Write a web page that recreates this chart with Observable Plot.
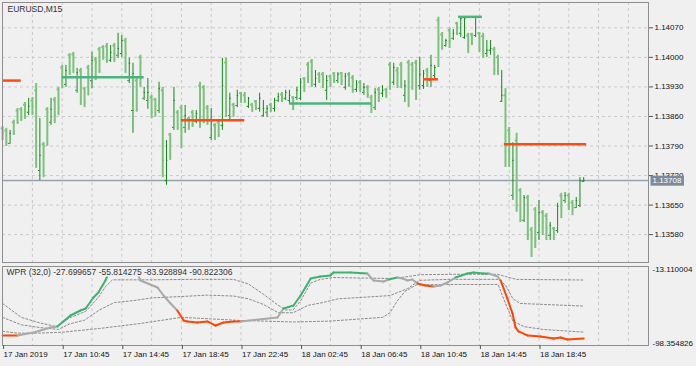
<!DOCTYPE html>
<html><head><meta charset="utf-8">
<script src="https://cdn.jsdelivr.net/npm/d3@7"></script>
<script src="https://cdn.jsdelivr.net/npm/@observablehq/plot@0.6"></script>
<style>
html,body{margin:0;padding:0;background:#f0f0f0;}
body{width:696px;height:366px;overflow:hidden;position:relative;font-family:"Liberation Sans",Arial,sans-serif;}
#main{position:absolute;left:0;top:0;}
#ind{position:absolute;left:0;top:264px;}
svg{display:block;}
</style></head><body>
<div id="main"></div><div id="ind"></div>
<script>
// ---------- DATA ----------
const symbol = "EURUSD,M15";
const barHigh = [1.13836,1.13832,1.13827,1.13851,1.13879,1.13881,1.13893,1.13903,1.13905,1.13938,
1.13855,1.13798,1.13881,1.13903,1.13905,1.13929,1.13981,1.13981,1.14009,1.14012,
1.13974,1.13974,1.13929,1.13981,1.14012,1.14000,1.14024,1.14028,1.14033,1.14028,
1.14033,1.14057,1.14052,1.14045,1.13998,1.13986,1.13952,1.14005,1.13929,1.13950,
1.13910,1.13903,1.13941,1.13929,1.13803,1.13820,1.13929,1.13874,1.13886,1.13886,
1.13858,1.13874,1.13874,1.13941,1.13933,1.13886,1.13879,1.13843,1.13851,1.13998,
1.13998,1.13915,1.13891,1.13922,1.13917,1.13917,1.13905,1.13891,1.13898,1.13915,
1.13898,1.13886,1.13891,1.13903,1.13915,1.13917,1.13922,1.13922,1.13907,1.13929,
1.13950,1.13952,1.13988,1.13995,1.13969,1.13964,1.13964,1.13957,1.13957,1.13964,
1.13964,1.13964,1.13962,1.13964,1.13957,1.13945,1.13945,1.13938,1.13933,1.13910,
1.13926,1.13929,1.13933,1.13926,1.13988,1.13986,1.13976,1.13988,1.13945,1.13993,
1.13988,1.13993,1.14000,1.13969,1.13974,1.14005,1.13981,1.14095,1.14059,1.14043,
1.14069,1.14066,1.14083,1.14095,1.14095,1.14057,1.14057,1.14097,1.14059,1.14057,
1.14040,1.14040,1.14024,1.14005,1.13969,1.13926,1.13834,1.13798,1.13820,1.13689,
1.13673,1.13673,1.13597,1.13644,1.13661,1.13637,1.13630,1.13609,1.13597,1.13654,
1.13678,1.13680,1.13678,1.13661,1.13668,1.13715,1.13715];
const barLow = [1.13803,1.13789,1.13794,1.13815,1.13841,1.13848,1.13853,1.13862,1.13862,1.13737,
1.13708,1.13715,1.13789,1.13839,1.13843,1.13862,1.13926,1.13929,1.13957,1.13962,
1.13915,1.13886,1.13881,1.13910,1.13926,1.13945,1.13962,1.13993,1.13986,1.13988,
1.13988,1.13998,1.14000,1.13962,1.13938,1.13820,1.13870,1.13929,1.13898,1.13877,
1.13855,1.13858,1.13867,1.13715,1.13697,1.13756,1.13827,1.13827,1.13784,1.13820,
1.13827,1.13834,1.13843,1.13832,1.13843,1.13839,1.13803,1.13803,1.13810,1.13827,
1.13858,1.13851,1.13858,1.13881,1.13891,1.13891,1.13879,1.13870,1.13874,1.13870,
1.13858,1.13858,1.13870,1.13870,1.13893,1.13893,1.13898,1.13891,1.13874,1.13898,
1.13898,1.13917,1.13938,1.13929,1.13929,1.13938,1.13926,1.13898,1.13929,1.13938,
1.13938,1.13933,1.13922,1.13929,1.13915,1.13917,1.13917,1.13910,1.13903,1.13867,
1.13874,1.13893,1.13905,1.13903,1.13922,1.13933,1.13926,1.13926,1.13893,1.13881,
1.13922,1.13898,1.13922,1.13924,1.13929,1.13929,1.13945,1.13976,1.14017,1.14024,
1.14021,1.14040,1.14052,1.14047,1.14043,1.14009,1.14028,1.14047,1.14012,1.13998,
1.14000,1.14005,1.13957,1.13957,1.13893,1.13739,1.13739,1.13661,1.13633,1.13609,
1.13609,1.13566,1.13526,1.13547,1.13566,1.13578,1.13566,1.13566,1.13566,1.13583,
1.13618,1.13654,1.13637,1.13625,1.13642,1.13644,1.13704];
const barOpen = [1.13832,1.13827,1.13796,1.13846,1.13874,1.13877,1.13888,1.13870,1.13898,1.13922,
1.13732,1.13794,1.13877,1.13846,1.13900,1.13924,1.13976,1.13936,1.14005,1.14007,
1.13922,1.13969,1.13926,1.13976,1.13945,1.13995,1.14019,1.14024,1.14026,1.13993,
1.14028,1.14005,1.14009,1.14040,1.13945,1.13874,1.13945,1.14000,1.13903,1.13898,
1.13905,1.13900,1.13874,1.13922,1.13708,1.13817,1.13834,1.13870,1.13881,1.13834,
1.13855,1.13870,1.13848,1.13933,1.13929,1.13881,1.13810,1.13839,1.13846,1.13839,
1.13988,1.13862,1.13888,1.13886,1.13915,1.13910,1.13884,1.13888,1.13896,1.13879,
1.13862,1.13870,1.13888,1.13879,1.13898,1.13912,1.13903,1.13898,1.13905,1.13905,
1.13903,1.13950,1.13983,1.13990,1.13936,1.13960,1.13960,1.13922,1.13955,1.13962,
1.13945,1.13962,1.13929,1.13960,1.13952,1.13924,1.13941,1.13917,1.13929,1.13905,
1.13881,1.13924,1.13915,1.13924,1.13983,1.13941,1.13969,1.13983,1.13910,1.13988,
1.13983,1.13988,1.13933,1.13933,1.13969,1.13945,1.13957,1.14088,1.14054,1.14028,
1.14064,1.14045,1.14081,1.14057,1.14047,1.14052,1.14054,1.14052,1.14057,1.14050,
1.14009,1.14017,1.14019,1.14000,1.13896,1.13910,1.13827,1.13673,1.13803,1.13685,
1.13614,1.13668,1.13592,1.13640,1.13585,1.13633,1.13625,1.13578,1.13595,1.13590,
1.13673,1.13661,1.13673,1.13656,1.13644,1.13649,1.13706];
const barClose = [1.13822,1.13798,1.13820,1.13820,1.13846,1.13855,1.13874,1.13884,1.13884,1.13820,
1.13768,1.13789,1.13870,1.13877,1.13862,1.13879,1.13931,1.13969,1.13964,1.13998,
1.13964,1.13931,1.13893,1.13912,1.13993,1.13988,1.13967,1.14002,1.14017,1.14012,
1.14009,1.14021,1.14040,1.14009,1.13986,1.13962,1.13877,1.13986,1.13917,1.13917,
1.13870,1.13884,1.13926,1.13756,1.13756,1.13803,1.13898,1.13834,1.13832,1.13862,
1.13839,1.13841,1.13867,1.13851,1.13851,1.13848,1.13851,1.13808,1.13815,1.13933,
1.13893,1.13903,1.13879,1.13910,1.13905,1.13898,1.13903,1.13874,1.13879,1.13903,
1.13879,1.13879,1.13874,1.13898,1.13907,1.13905,1.13917,1.13910,1.13891,1.13922,
1.13941,1.13933,1.13945,1.13945,1.13950,1.13945,1.13950,1.13945,1.13933,1.13945,
1.13960,1.13945,1.13955,1.13945,1.13922,1.13936,1.13926,1.13929,1.13910,1.13886,
1.13917,1.13915,1.13922,1.13917,1.13948,1.13976,1.13962,1.13933,1.13933,1.13941,
1.13969,1.13910,1.13960,1.13962,1.13945,1.13981,1.13976,1.14045,1.14028,1.14040,
1.14040,1.14057,1.14057,1.14092,1.14092,1.14040,1.14033,1.14095,1.14021,1.14012,
1.14017,1.14021,1.13971,1.13967,1.13910,1.13791,1.13796,1.13756,1.13649,1.13614,
1.13668,1.13578,1.13573,1.13566,1.13633,1.13609,1.13595,1.13602,1.13578,1.13647,
1.13649,1.13673,1.13654,1.13644,1.13661,1.13708,1.13708];
const lastPrice = 1.13708;

// horizontal level segments on price pane (bar index start/end)
const levelStart = [0, 16, 48, 77, 113, 122.4, 134.7];
const levelEnd   = [5, 38, 65, 99, 117, 128.8, 156.8];
const levelPrice = [1.13945, 1.13953, 1.13851, 1.13891, 1.13948, 1.14096, 1.13794];
const levelKind  = ["dn","up","dn","up","dn","up","dn"];

const priceTicks = [1.14070,1.14000,1.13930,1.13860,1.13790,1.13720,1.13650,1.13580];
const gridBars = [8,16,24,32,40,48,56,64,72,80,88,96,104,112,120,128,136,144,152,160,168];
const timeTicks = [0,16,32,48,64,80,96,112,128,144];
const timeLabels = ["17 Jan 2019","17 Jan 10:45","17 Jan 14:45","17 Jan 18:45","17 Jan 22:45",
  "18 Jan 02:45","18 Jan 06:45","18 Jan 10:45","18 Jan 14:45","18 Jan 18:45"];

// WPR line vertices (bar index, value, zone of the segment starting there)
const wprBar = [0,4,8.3,12.9,14.7,18.2,20.9,22.3,24.4,25.7,27.6,29,31.7,35.7,37,41.6,43.2,45.1,46.9,48.6,49.6,52.3,55,57.2,59.3,62,63.9,
  73.8,75.4,78.1,80,81.3,82.7,85.3,88,88.8,93.4,97.9,99.6,102.3,103.6,106,107.4,108.7,110,111.4,113.5,115.7,117.6,119.4,121.6,124.8,126.4,
  129.1,130.5,132.9,133.7,135.5,136.9,137.7,138.5,140.9,144.4,147.9,149.8,151.6,156];
const wprVal = [-87.5,-87.5,-84.3,-78.9,-77.8,-66,-60.6,-58.4,-46.6,-41.2,-28.2,-15,-13.11,-15.3,-28.2,-35.8,-44.4,-53,-60.6,-71.4,-72.4,-73.5,-72.4,-76.8,-73.5,-72.4,-72.4,
  -68.1,-58.4,-55.2,-44.4,-35.8,-26.1,-23.9,-22.8,-19.6,-19.6,-20.7,-28.2,-29.3,-27.1,-25,-26.1,-28.2,-27.1,-31.4,-33.6,-34.7,-33.6,-30.4,-25,-20.7,-19.6,
  -20.7,-20.7,-23.9,-28.2,-47.6,-63.8,-78.9,-83.2,-87.5,-88.6,-90.8,-89.7,-91.9,-90.822306];
const wprZone = ["dn","mid","mid","mid","up","up","up","up","up","up","up","up","up","mid","mid","mid","mid","mid","dn","dn","dn","dn","dn","dn","dn","dn","mid",
  "mid","up","up","up","up","up","up","up","up","up","mid","mid","mid","up","mid","mid","mid","mid","dn","dn","mid","mid","mid","up","up","up",
  "up","mid","mid","dn","dn","dn","dn","dn","dn","dn","dn","dn","dn","dn"];

// dynamic levels (dashed)
const upBar = [0,5,10,14.5,18,22.3,25.7,27.6,29.5,40,50,62,66,70,74,76,78,80,81.3,82.7,85.3,88.8,95,104,108,112,120,127,133,135,138,156];
const upVal = [-53,-68,-74,-78,-68.5,-61.5,-46.5,-35,-27.5,-27.5,-27,-27,-32,-43,-55,-60,-60,-50,-41,-31,-27,-25,-25.5,-26,-24.5,-22,-21.5,-21.5,-21.5,-24,-27,-27.699657];
const midBar = [0,5,10,15,18,22,26,30,35,40,48,55,62,66,70,74,78,82,86,90,104,108.7,112,120,133,135,137,139,156];
const midVal = [-68,-76,-79,-81,-75,-71,-60,-52,-50,-47,-45.5,-44,-45,-48,-54,-63,-63,-55,-52,-48,-44.5,-37,-28,-27,-27,-33,-48,-53,-55.814275];
const loBar = [0,4,10,16,26,37,48,53,64,70,78,88,95,102,104,106,108,111,120,133,135,137,140,145,156];
const loVal = [-83,-85,-85,-84,-80,-74.6,-68,-69,-71.4,-72,-73,-72,-70,-68,-63,-50,-40,-33,-32.5,-32.5,-53,-72,-78,-81,-83.928894];
const wprName = "WPR (32,0)";
const wprLast = [-27.699657, -55.814275, -83.928894, -90.822306];
const wprMax = -13.110004, wprMin = -98.354826;

// ---------- CHART ----------
const X0 = -0.03, X1 = 173.4;
const FONT = "Liberation Sans, Arial, sans-serif";
const gridStyle = {stroke: "#c9c9c9", strokeDasharray: "3,3", strokeWidth: 1};
const frameStroke = "#8e8e8e";
const zoneColor = {up: "#3cb371", dn: "#ff4500", mid: "#a9a9a9"};

const bars = barHigh.map((h, i) => ({i, h, l: barLow[i], o: barOpen[i], c: barClose[i], up: barClose[i] >= barOpen[i]}));
const upBars = bars.filter(d => d.up), dnBars = bars.filter(d => !d.up);
const levels = levelPrice.map((p, k) => ({x1: levelStart[k], x2: levelEnd[k], p, kind: levelKind[k]}));

function barMarks(data, color, w) {
  return [
    Plot.ruleX(data, {x: "i", y1: "l", y2: "h", stroke: color, strokeWidth: w}),
    Plot.ruleY(data, {y: "o", x1: d => d.i - 0.38, x2: "i", stroke: color, strokeWidth: w}),
    Plot.ruleY(data, {y: "c", x1: "i", x2: d => d.i + 0.38, stroke: color, strokeWidth: w})
  ];
}

// put a filled box behind a text element (found by its content)
function boxBehind(svg, content, fill, padX, padTop, padBottom) {
  const texts = Array.from(svg.querySelectorAll("text")).filter(t => t.textContent === content);
  const t = texts[texts.length - 1];
  const b = t.getBBox();
  d3.select(t.parentNode).insert("rect", () => t)
    .attr("x", b.x - padX).attr("y", b.y - padTop)
    .attr("width", b.width + 2 * padX).attr("height", b.height + padTop + padBottom)
    .attr("fill", fill).attr("transform", t.getAttribute("transform"));
}

const main = Plot.plot({
  width: 696, height: 264,
  marginTop: 2, marginBottom: 2, marginLeft: 2, marginRight: 48,
  style: {background: "transparent", fontFamily: FONT, fontSize: "8px", color: "#111", overflow: "visible"},
  x: {domain: [X0, X1], axis: null},
  y: {domain: [1.13514, 1.14130], axis: null},
  marks: [
    Plot.ruleX(gridBars, gridStyle),
    Plot.ruleY(priceTicks, gridStyle),
    Plot.ruleY([lastPrice], {stroke: "#97a1ab", strokeWidth: 1.5}),
    ...barMarks(dnBars, "#7cc27c", 2),
    ...barMarks(upBars, "#13891a", 1),
    Plot.ruleY(levels, {y: "p", x1: "x1", x2: "x2", stroke: d => d.kind === "up" ? "#4bb47c" : "#ff4a14", strokeWidth: 2.5}),
    Plot.frame({stroke: frameStroke}),
    Plot.axisY(priceTicks, {anchor: "right", tickSize: 4, tickPadding: 2, tickFormat: d => d.toFixed(5), stroke: "#555", fill: "#111", fontSize: 8}),
    Plot.text([symbol], {frameAnchor: "top-left", dx: 5, dy: 3, fill: "#333", fontSize: 8.5}),
    Plot.text([lastPrice], {y: d => d, text: d => d.toFixed(5), frameAnchor: "right", textAnchor: "start", dx: 4, fill: "white", fontSize: 8})
  ]
});
document.getElementById("main").append(main);
// the last-price label sits on a slate box, covering the axis label beneath it
boxBehind(main, lastPrice.toFixed(5), "#7c8a9a", 2, 0.5, 0.5);

const segs = wprBar.slice(0, -1).map((b, k) => ({x1: b, y1: wprVal[k], x2: wprBar[k + 1], y2: wprVal[k + 1], z: wprZone[k]}));
const dashStyle = {stroke: "#8a8a8a", strokeDasharray: "2,2", strokeWidth: 1};
const wprLabel = wprName + " " + wprLast.map(v => v.toFixed(6)).join(" ");

const ind = Plot.plot({
  width: 696, height: 102,
  marginTop: 2, marginBottom: 21, marginLeft: 2, marginRight: 48,
  style: {background: "transparent", fontFamily: FONT, fontSize: "8px", color: "#111", overflow: "visible"},
  x: {domain: [X0, X1]},
  y: {domain: [wprMin, wprMax], axis: null},
  marks: [
    Plot.ruleX(gridBars, gridStyle),
    Plot.line(upBar, {x: d => d, y: (d, k) => upVal[k], ...dashStyle}),
    Plot.line(midBar, {x: d => d, y: (d, k) => midVal[k], ...dashStyle}),
    Plot.line(loBar, {x: d => d, y: (d, k) => loVal[k], ...dashStyle}),
    Plot.link(segs, {x1: "x1", y1: "y1", x2: "x2", y2: "y2", stroke: d => zoneColor[d.z], strokeWidth: 2, strokeLinecap: "round"}),
    Plot.text([wprLabel], {frameAnchor: "top-left", dx: 4, dy: 2, fill: "#333", fontSize: 8.5}),
    Plot.frame({stroke: frameStroke}),
    Plot.axisX(timeTicks, {tickSize: 4, tickPadding: 2, tickFormat: d => timeLabels[timeTicks.indexOf(d)], textAnchor: "start", dx: 1, stroke: "#555", fill: "#111", fontSize: 8}),
    Plot.text([wprMax], {text: d => d.toFixed(6), frameAnchor: "top-right", textAnchor: "start", dx: 4, dy: 0, fill: "#111", fontSize: 8}),
    Plot.text([wprMin], {text: d => d.toFixed(6), frameAnchor: "bottom-right", textAnchor: "start", dx: 4, dy: 0, fill: "#111", fontSize: 8})
  ]
});
document.getElementById("ind").append(ind);
boxBehind(ind, wprLabel, "#f0f0f0", 1, 3, 0);
</script>
</body></html>
